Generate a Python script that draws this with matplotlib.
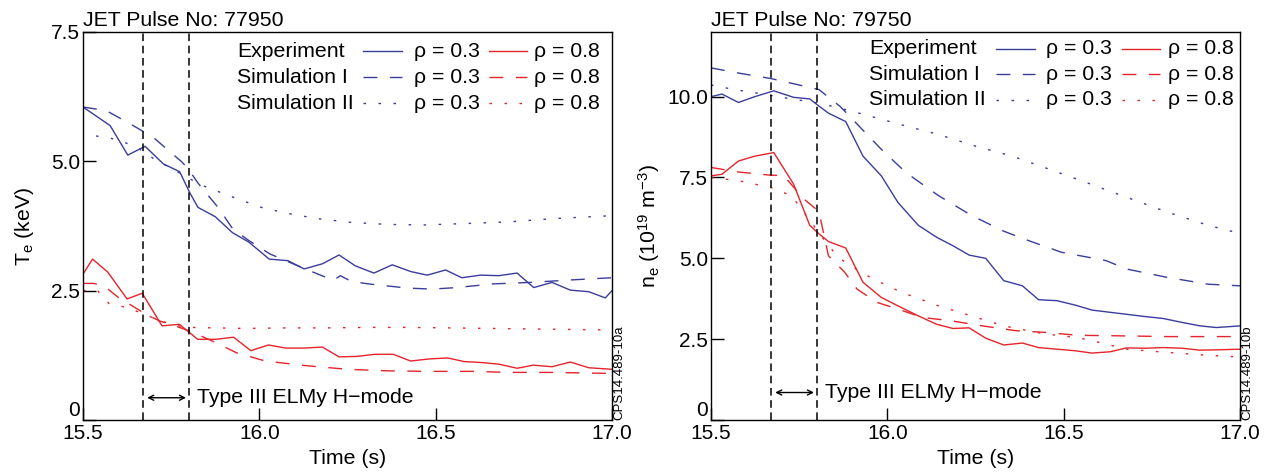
import matplotlib
matplotlib.use("Agg")
import matplotlib.pyplot as plt

plt.rcParams['font.family'] = ['Liberation Sans', 'DejaVu Sans']
plt.rcParams['mathtext.default'] = 'regular'

BLUE = '#3a3d9c'
RED = '#e5242b'

# ---------------- Pulse 77950: electron temperature (keV) ----------------
te_exp_03_t = [15.50, 15.577, 15.627, 15.676, 15.728, 15.774, 15.803, 15.826, 15.875, 15.924,
               15.970, 16.028, 16.081, 16.127, 16.179, 16.226, 16.272, 16.325, 16.377, 16.429,
               16.476, 16.528, 16.574, 16.627, 16.679, 16.731, 16.778, 16.830, 16.882, 16.934,
               16.981, 17.0]
te_exp_03 = [6.05, 5.69, 5.12, 5.29, 4.95, 4.80, 4.39, 4.11, 3.93, 3.62,
             3.44, 3.11, 3.08, 2.92, 3.02, 3.19, 2.98, 2.84, 3.00, 2.87,
             2.80, 2.90, 2.75, 2.80, 2.79, 2.84, 2.56, 2.66, 2.51, 2.48,
             2.36, 2.50]

te_sim1_03_t = [15.50, 15.566, 15.635, 15.67, 15.705, 15.739, 15.78, 15.80, 15.826, 15.884,
                15.924, 15.97, 16.03, 16.13, 16.21, 16.23, 16.26, 16.31, 16.42, 16.49,
                16.56, 16.66, 16.77, 16.89, 17.0]
te_sim1_03 = [6.05, 5.98, 5.72, 5.58, 5.43, 5.23, 4.99, 4.84, 4.58, 4.10,
              3.70, 3.47, 3.21, 2.92, 2.70, 2.79, 2.68, 2.63, 2.55, 2.53,
              2.56, 2.63, 2.66, 2.71, 2.75]

te_sim2_03_t = [15.537, 15.577, 15.624, 15.664, 15.705, 15.751, 15.791, 15.832, 15.878, 15.936,
                16.005, 16.075, 16.167, 16.26, 16.364, 16.468, 16.595, 16.71, 16.827, 17.0]
te_sim2_03 = [5.49, 5.45, 5.35, 5.22, 5.03, 4.86, 4.71, 4.55, 4.43, 4.28,
              4.11, 4.00, 3.89, 3.82, 3.78, 3.77, 3.80, 3.83, 3.89, 3.95]

te_exp_08_t = [15.50, 15.527, 15.57, 15.625, 15.668, 15.724, 15.773, 15.802, 15.825, 15.877,
               15.927, 15.976, 16.026, 16.075, 16.127, 16.179, 16.226, 16.278, 16.328, 16.38,
               16.429, 16.481, 16.534, 16.58, 16.632, 16.679, 16.731, 16.777, 16.83, 16.882,
               16.934, 17.0]
te_exp_08 = [2.82, 3.11, 2.86, 2.34, 2.45, 1.82, 1.85, 1.69, 1.56, 1.56,
             1.60, 1.34, 1.45, 1.39, 1.39, 1.41, 1.22, 1.23, 1.27, 1.27,
             1.14, 1.18, 1.20, 1.13, 1.11, 1.08, 1.00, 1.06, 1.03, 1.12,
             1.01, 0.98]

te_sim1_08_t = [15.50, 15.53, 15.558, 15.60, 15.67, 15.715, 15.761, 15.802, 15.866, 15.935,
                16.017, 16.133, 16.25, 16.365, 16.48, 16.60, 16.71, 16.83, 17.0]
te_sim1_08 = [2.64, 2.64, 2.60, 2.37, 2.08, 1.92, 1.82, 1.72, 1.53, 1.30,
              1.14, 1.05, 0.98, 0.95, 0.94, 0.94, 0.92, 0.92, 0.90]

te_sim2_08_t = [15.50, 15.54, 15.575, 15.622, 15.668, 15.715, 15.76, 15.808, 15.877, 15.958,
                16.075, 16.19, 16.307, 16.42, 16.54, 16.656, 16.77, 17.0]
te_sim2_08 = [2.50, 2.51, 2.24, 2.18, 2.06, 1.93, 1.83, 1.79, 1.78, 1.77,
              1.78, 1.78, 1.79, 1.79, 1.78, 1.77, 1.76, 1.74]

# ---------------- Pulse 79750: electron density (1e19 m^-3) ----------------
ne_exp_03_t = [15.50, 15.531, 15.578, 15.624, 15.678, 15.734, 15.78, 15.806, 15.833, 15.882,
               15.931, 15.983, 16.03, 16.088, 16.14, 16.186, 16.232, 16.279, 16.33, 16.383,
               16.429, 16.481, 16.534, 16.58, 16.632, 16.678, 16.73, 16.782, 16.835, 16.887,
               16.933, 17.0]
ne_exp_03 = [10.00, 10.08, 9.82, 10.00, 10.18, 9.98, 9.93, 9.71, 9.49, 9.23,
             8.16, 7.55, 6.73, 6.02, 5.65, 5.39, 5.10, 5.00, 4.31, 4.15,
             3.72, 3.69, 3.55, 3.40, 3.33, 3.27, 3.20, 3.14, 3.02, 2.91,
             2.86, 2.91]

ne_sim1_03_t = [15.50, 15.578, 15.67, 15.806, 15.867, 15.925, 15.983, 16.053, 16.145, 16.238,
                16.33, 16.40, 16.493, 16.62, 16.678, 16.794, 16.91, 17.0]
ne_sim1_03 = [10.89, 10.73, 10.56, 10.22, 9.69, 9.03, 8.37, 7.65, 6.94, 6.33,
              5.84, 5.55, 5.19, 4.93, 4.67, 4.41, 4.20, 4.15]

ne_sim2_03_t = [15.50, 15.566, 15.636, 15.728, 15.806, 15.867, 15.937, 16.04, 16.145, 16.25,
                16.354, 16.458, 16.563, 16.678, 16.794, 16.91, 17.0]
ne_sim2_03 = [10.36, 10.22, 10.10, 9.93, 9.80, 9.64, 9.44, 9.13, 8.83, 8.47,
              8.16, 7.76, 7.35, 6.89, 6.43, 6.02, 5.77]

ne_exp_08_t = [15.50, 15.531, 15.578, 15.624, 15.678, 15.734, 15.78, 15.806, 15.833, 15.882,
               15.931, 15.983, 16.03, 16.088, 16.14, 16.186, 16.232, 16.279, 16.33, 16.383,
               16.429, 16.481, 16.534, 16.58, 16.632, 16.678, 16.73, 16.782, 16.835, 16.887,
               16.933, 17.0]
ne_exp_08 = [7.55, 7.60, 8.01, 8.16, 8.27, 7.30, 6.02, 5.76, 5.52, 5.32,
             4.26, 3.79, 3.53, 3.22, 2.96, 2.83, 2.85, 2.53, 2.32, 2.38,
             2.24, 2.19, 2.14, 2.07, 2.11, 2.23, 2.22, 2.24, 2.22, 2.16,
             2.17, 2.19]

ne_sim1_08_t = [15.50, 15.578, 15.67, 15.705, 15.763, 15.806, 15.833, 15.879, 15.914, 15.97,
                16.03, 16.10, 16.18, 16.27, 16.366, 16.447, 16.54, 16.678, 16.794, 17.0]
ne_sim1_08 = [7.81, 7.67, 7.57, 7.57, 6.84, 6.45, 5.08, 4.57, 4.05, 3.64,
              3.43, 3.17, 3.07, 2.91, 2.76, 2.71, 2.62, 2.60, 2.58, 2.58]

ne_sim2_08_t = [15.50, 15.578, 15.67, 15.728, 15.763, 15.833, 15.867, 15.925, 15.97, 16.04,
                16.145, 16.238, 16.33, 16.447, 16.54, 16.62, 16.678, 16.794, 16.91, 17.0]
ne_sim2_08 = [7.50, 7.40, 7.19, 6.94, 6.43, 5.39, 4.98, 4.57, 4.31, 3.95,
              3.53, 3.22, 2.91, 2.66, 2.55, 2.35, 2.19, 2.09, 2.00, 1.95]

# ---------------- shared annotations ----------------
h_mode_start, h_mode_end = 15.67, 15.80
x_ticks = [15.5, 16.0, 16.5, 17.0]
x_tick_labels = ['15.5', '16.0', '16.5', '17.0']
te_ticks = [0, 2.5, 5.0, 7.5]
te_tick_labels = ['0', '2.5', '5.0', '7.5']
ne_ticks = [0, 2.5, 5.0, 7.5, 10.0]
ne_tick_labels = ['0', '2.5', '5.0', '7.5', '10.0']
key_rows = ['Experiment', 'Simulation I', 'Simulation II']
key_rho = ['\u03c1 = 0.3', '\u03c1 = 0.8']

FS = 15.3
TICK_FS = 15
LW = 1.0
SOLID = '-'
DASHED = (0, (10, 9))
DOTTED = (0, (1.8, 9))
STYLES = [SOLID, DASHED, DOTTED]

fig = plt.figure(figsize=(12.76, 4.72), dpi=100)
ax1 = fig.add_axes([83 / 1276, 52 / 472, 529 / 1276, 388 / 472])
ax2 = fig.add_axes([711 / 1276, 52 / 472, 529 / 1276, 388 / 472])


def style_axes(ax, ylim, yticks, ylabels, title, ylabel, tag, ylabelpad):
    ax.set_xlim(15.5, 17.0)
    ax.set_ylim(*ylim)
    ax.set_xticks(x_ticks, x_tick_labels)
    ax.set_yticks(yticks, ylabels)
    ax.tick_params(direction='in', length=9, width=1.0, labelsize=TICK_FS, pad=3)
    ax.tick_params(axis='y', pad=2)
    ax.get_yticklabels()[0].set_va('bottom')
    for s in ax.spines.values():
        s.set_linewidth(1.0)
    ax.set_title(title, loc='left', fontsize=FS, pad=4)
    ax.set_xlabel('Time (s)', fontsize=FS, labelpad=4)
    ax.set_ylabel(ylabel, fontsize=FS, labelpad=ylabelpad)
    ax.text(1.003, 0.0, tag, transform=ax.transAxes, rotation=90,
            ha='left', va='bottom', fontsize=9.5)
    for t in (h_mode_start, h_mode_end):
        ax.axvline(t, color='black', lw=1.1, linestyle=(0, (5, 3)))


def draw_key(ax, rows_y, xs):
    x_txt, x_l1a, x_l1b, x_r1, x_l2a, x_l2b, x_r2 = xs
    for label, y, ls in zip(key_rows, rows_y, STYLES):
        ax.text(x_txt, y, label, transform=ax.transAxes, fontsize=FS, va='center')
        ax.plot([x_l1a, x_l1b], [y, y], transform=ax.transAxes, color=BLUE, lw=LW, ls=ls)
        ax.text(x_r1, y, key_rho[0], transform=ax.transAxes, fontsize=FS, va='center')
        ax.plot([x_l2a, x_l2b], [y, y], transform=ax.transAxes, color=RED, lw=LW, ls=ls)
        ax.text(x_r2, y, key_rho[1], transform=ax.transAxes, fontsize=FS, va='center')


def draw_phase(ax, y):
    ax.annotate('', xy=(h_mode_end - 0.008, y), xytext=(h_mode_start + 0.012, y),
                arrowprops=dict(arrowstyle='<->', lw=1.0, color='black',
                                shrinkA=0, shrinkB=0, mutation_scale=9))
    ax.text(h_mode_end + 0.022, y, 'Type III ELMy H\u2212mode', fontsize=FS, va='center')


# Left panel: temperature
ax1.plot(te_exp_03_t, te_exp_03, color=BLUE, lw=LW, ls=SOLID)
ax1.plot(te_sim1_03_t, te_sim1_03, color=BLUE, lw=LW, ls=DASHED)
ax1.plot(te_sim2_03_t, te_sim2_03, color=BLUE, lw=LW, ls=DOTTED)
ax1.plot(te_exp_08_t, te_exp_08, color=RED, lw=LW, ls=SOLID)
ax1.plot(te_sim1_08_t, te_sim1_08, color=RED, lw=LW, ls=DASHED)
ax1.plot(te_sim2_08_t, te_sim2_08, color=RED, lw=LW, ls=DOTTED)
style_axes(ax1, (0, 7.5), te_ticks, te_tick_labels, 'JET Pulse No: 77950',
           'T$_e$ (keV)', 'CPS14.489-10a', 11)
draw_key(ax1, [0.950, 0.883, 0.816], [0.291, 0.530, 0.603, 0.626, 0.767, 0.840, 0.853])
draw_phase(ax1, 0.43)

# Right panel: density
ax2.plot(ne_exp_03_t, ne_exp_03, color=BLUE, lw=LW, ls=SOLID)
ax2.plot(ne_sim1_03_t, ne_sim1_03, color=BLUE, lw=LW, ls=DASHED)
ax2.plot(ne_sim2_03_t, ne_sim2_03, color=BLUE, lw=LW, ls=DOTTED)
ax2.plot(ne_exp_08_t, ne_exp_08, color=RED, lw=LW, ls=SOLID)
ax2.plot(ne_sim1_08_t, ne_sim1_08, color=RED, lw=LW, ls=DASHED)
ax2.plot(ne_sim2_08_t, ne_sim2_08, color=RED, lw=LW, ls=DOTTED)
style_axes(ax2, (0, 12), ne_ticks, ne_tick_labels, 'JET Pulse No: 79750',
           'n$_e$ (10$^{19}$ m$^{-3}$)', 'CPS14.489-10b', 4)
draw_key(ax2, [0.957, 0.891, 0.825], [0.299, 0.538, 0.612, 0.633, 0.776, 0.849, 0.863])
draw_phase(ax2, 0.85)

fig.savefig('out.png', dpi=100)
